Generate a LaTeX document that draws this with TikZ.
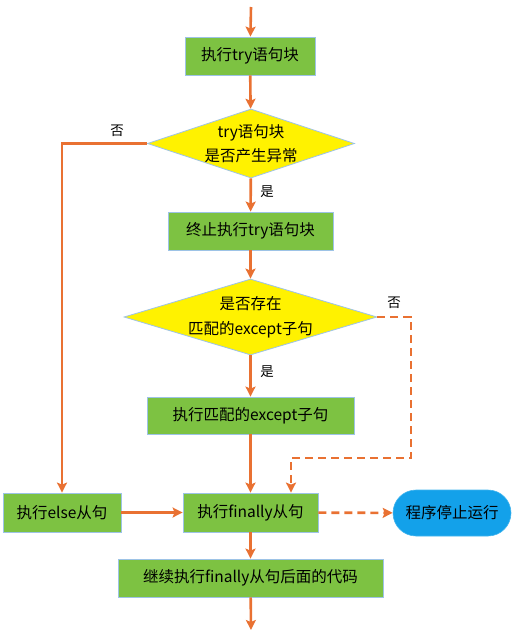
\documentclass[tikz,border=0pt]{standalone}
\usepackage{fontspec}
\setmainfont{Noto Sans CJK SC}
\usetikzlibrary{arrows.meta,shapes.geometric}
\definecolor{boxgreen}{HTML}{7DC242}
\definecolor{boxedge}{HTML}{9DC3E6}
\definecolor{flow}{HTML}{E97132}
\definecolor{termblue}{HTML}{13A1EA}
\tikzset{
  stepbox/.style={rectangle,draw=boxedge,line width=0.8pt,fill=boxgreen,inner sep=0pt,align=center,font=\fontsize{15.5}{18}\selectfont},
  decide/.style={diamond,draw=boxedge,line width=0.8pt,fill=yellow,inner sep=0pt,shape aspect=3},
  endbox/.style={rectangle,rounded corners=23pt,fill=termblue,draw=termblue!80,line width=0.6pt,inner sep=0pt,font=\fontsize{15.5}{18}\selectfont},
  flowline/.style={draw=flow,line width=2.6pt,-{Stealth[length=10pt,width=10pt,inset=2pt]}},
  flowdash/.style={flowline,dash pattern=on 8pt off 5pt},
  tag/.style={font=\fontsize{13.5}{16}\selectfont,inner sep=0pt}
}
\begin{document}
\begin{tikzpicture}[x=1pt,y=-1pt]
\useasboundingbox (0,0) rectangle (513,633);
\coordinate (start) at (251,7);
\coordinate (stop) at (251,630);
\node[stepbox,minimum width=130pt,minimum height=38pt] (b1) at (250,56) {执行try语句块};
\node[decide,minimum width=207pt,minimum height=69pt,
  label={[align=center,font=\fontsize{15.5}{24}\selectfont]center:try语句块\\是否产生异常}] (d1) at (251,143.5) {};
\node[stepbox,minimum width=165pt,minimum height=38pt] (b2) at (250.5,231) {终止执行try语句块};
\node[decide,minimum width=253pt,minimum height=76pt,
  label={[align=center,font=\fontsize{15.5}{25}\selectfont]center:是否存在\\匹配的except子句}] (d2) at (250.5,317) {};
\node[stepbox,minimum width=207pt,minimum height=37pt] (b3) at (250.5,415.5) {执行匹配的except子句};
\node[stepbox,minimum width=118pt,minimum height=39pt] (els) at (62,512.5) {执行else从句};
\node[stepbox,minimum width=135pt,minimum height=39pt] (fin) at (250.5,512.5) {执行finally从句};
\node[endbox,minimum width=118pt,minimum height=46pt] (term) at (452,513) {程序停止运行};
\node[stepbox,minimum width=265pt,minimum height=38pt] (last) at (250.5,578) {继续执行finally从句后面的代码};
\coordinate (dc1) at (411,458);
\coordinate (dc2) at (291,458);
\node[tag] (no1) at (117,131) {否};
\node[tag] (yes1) at (267,192) {是};
\node[tag] (no2) at (394,303) {否};
\node[tag] (yes2) at (267,372) {是};
\draw[flowline] (start) -- (b1);
\draw[flowline] (b1) -- (d1);
\draw[flowline] (d1) -- (b2);
\draw[flowline] (d1.west) -| (els.north);
\draw[flowline] (b2) -- (d2);
\draw[flowline] (d2) -- (b3);
\draw[flowline] (b3) -- (fin);
\draw[flowdash] (d2.east) -| (dc1) -- (dc2) -- (dc2 |- fin.north);
\draw[flowline] (els) -- (fin);
\draw[flowdash] (fin) -- (term);
\draw[flowline] (fin) -- (last);
\draw[flowline] (last) -- (stop);
\end{tikzpicture}
\end{document}
